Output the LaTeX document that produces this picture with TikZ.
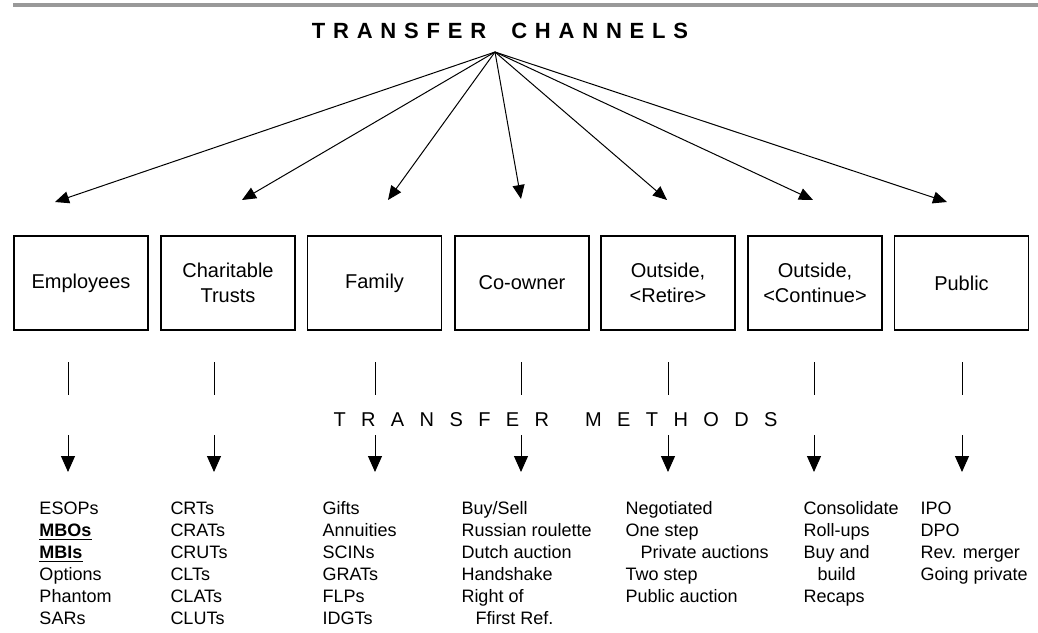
\documentclass[tikz,border=0pt]{standalone}
\usepackage{fontspec}
\setmainfont{Liberation Sans}
\usetikzlibrary{arrows.meta}

\begin{document}
\begin{tikzpicture}[x=0.5pt, y=-0.5pt, line width=0.5pt,
  chan/.style={draw, line width=0.65pt, minimum width=67pt, minimum height=47pt, align=center, inner sep=1pt, font=\fontsize{10}{12.5}\selectfont},
  meth/.style={anchor=north west, align=left, inner sep=0pt, font=\fontsize{9}{11}\selectfont},
  fan/.style={-{Triangle[length=7pt, width=6pt]}},
  down/.style={-{Triangle[length=8pt, width=7pt]}}]
  \useasboundingbox (0,0) rectangle (1038,632);
  \fill[black!40] (13,3) rectangle (1038,7);
  % heading and the fan of arrows
  \node[font=\fontsize{11}{13}\selectfont\bfseries] (title) at (500,31) {\spaceskip=3.9pt\relax T R A N S F E R\hspace{12.5pt}C H A N N E L S};
  \coordinate (apex) at (495,52);
  \coordinate (e1) at (55,202);
  \coordinate (e2) at (242,200);
  \coordinate (e3) at (388,200);
  \coordinate (e4) at (521,199);
  \coordinate (e5) at (667,200);
  \coordinate (e6) at (813,200);
  \coordinate (e7) at (947,202);
  \foreach \i in {1,...,7} \draw[fan] (apex) -- (e\i);
  % channels
  \node[chan] (emp) at (81,283) {Employees};
  \node[chan] (char) at (228,283) {Charitable\\Trusts};
  \node[chan] (fam) at (374.5,283) {Family};
  \node[chan] (coown) at (522,283) {Co-owner};
  \node[chan] (retire) at (668,283) {Outside,\\<Retire>};
  \node[chan] (cont) at (815,283) {Outside,\\<Continue>};
  \node[chan] (pub) at (961.5,283) {Public};
  % methods
  \foreach \x [count=\i] in {68,214,375,521,668,814,962} {
    \coordinate (up\i) at (\x,362);
    \coordinate (mid\i) at (\x,395);
    \coordinate (lo\i) at (\x,435);
    \coordinate (tip\i) at (\x,472);
    \draw (up\i) -- (mid\i);
    \draw[down] (lo\i) -- (tip\i);
  }
  \node[font=\fontsize{10}{12}\selectfont] (methods) at (555.5,420) {\spaceskip=7.7pt\relax T R A N S F E R\hspace{18pt}M E T H O D S};
  \node[meth] (l1) at (39,501) {ESOPs\\\underline{\textbf{MBOs}}\\\underline{\textbf{MBIs}}\\Options\\Phantom\\SARs};
  \node[meth] (l2) at (170,501) {CRTs\\CRATs\\CRUTs\\CLTs\\CLATs\\CLUTs};
  \node[meth] (l3) at (322,501) {Gifts\\Annuities\\SCINs\\GRATs\\FLPs\\IDGTs};
  \node[meth] (l4) at (461,501) {Buy/Sell\\Russian roulette\\Dutch auction\\Handshake\\Right of\\\hspace*{7pt}Ffirst Ref.};
  \node[meth] (l5) at (625,501) {Negotiated\\One step\\\hspace*{7.5pt}Private auctions\\Two step\\Public auction};
  \node[meth] (l6) at (803,501) {Consolidate\\Roll-ups\\Buy and\\\hspace*{7pt}build\\Recaps};
  \node[meth] (l7) at (920,501) {IPO\\DPO\\Rev. merger\\Going private};
\end{tikzpicture}
\end{document}
